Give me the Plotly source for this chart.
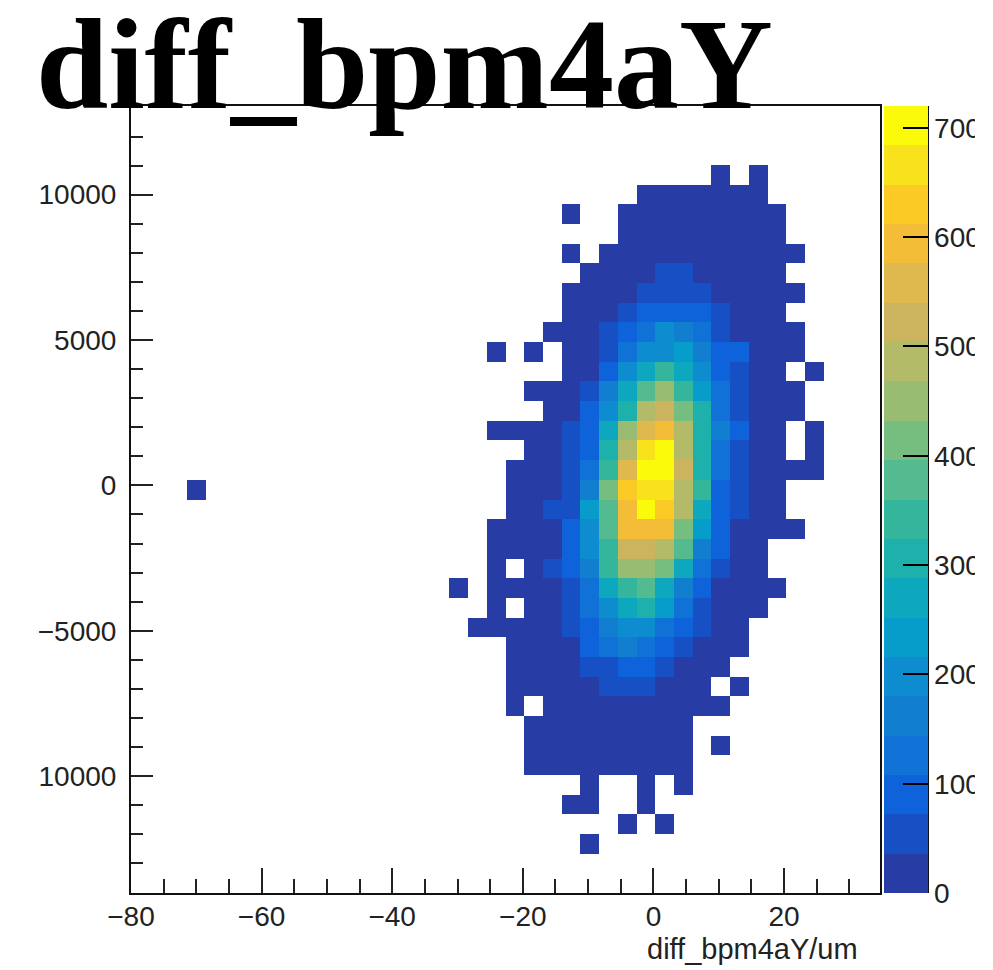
import plotly.graph_objects as go

# Histogram frame (data units)
X_MIN, X_MAX, N_X = -80.0, 34.7, 40
Y_MIN, Y_MAX, N_Y = -14020.0, 13050.0, 40
FIRST_COL = 16          # first x bin listed in the rows below
FIRST_ROW = 3           # first y bin from the top listed below
OUTLIER_BIN = (19, 3)   # (row from top, column)
OUTLIER_COUNT = 12

o = None
l = 12
# columns 16..36, rows from the top of the frame downward
counts = [
 [o,o,o,o,o,o,o,o,o,o,o,o,o,o,o,l,o,l,o,o,o],
 [o,o,o,o,o,o,o,o,o,o,o,l,l,l,l,l,l,l,o,o,o],
 [o,o,o,o,o,o,o,l,o,o,l,l,l,l,l,l,l,l,l,o,o],
 [o,o,o,o,o,o,o,o,o,o,l,l,l,l,l,l,l,l,l,o,o],
 [o,o,o,o,o,o,o,l,o,l,l,l,l,l,l,l,l,l,l,l,o],
 [o,o,o,o,o,o,o,o,l,l,l,l,54,54,l,l,l,l,l,o,o],
 [o,o,o,o,o,o,o,l,l,l,l,54,54,54,54,l,l,l,l,l,o],
 [o,o,o,o,o,o,o,l,l,l,54,90,90,90,90,54,l,l,l,o,o],
 [o,o,o,o,o,o,l,l,l,54,90,130,190,160,125,54,l,l,l,l,o],
 [o,o,o,l,o,l,o,l,l,54,125,198,198,245,160,90,90,l,l,l,o],
 [o,o,o,o,o,o,o,l,l,90,198,270,345,270,198,90,54,l,l,o,l],
 [o,o,o,o,o,l,l,l,54,160,270,378,450,342,234,126,54,l,l,l,o],
 [o,o,o,o,o,o,l,l,90,198,306,486,522,414,306,126,54,l,l,l,o],
 [o,o,o,l,l,l,l,54,90,270,450,558,594,486,306,162,90,l,l,o,l],
 [o,o,o,o,o,l,l,54,90,306,486,666,702,486,306,126,54,l,l,o,l],
 [o,o,o,o,l,l,l,54,126,342,558,702,702,522,306,126,54,l,l,l,l],
 [o,o,o,o,l,l,l,54,162,414,630,666,666,486,342,90,54,l,l,o,o],
 [o,o,o,o,l,l,54,54,234,378,594,702,630,486,270,90,54,l,l,o,o],
 [o,o,o,l,l,l,l,90,198,378,594,594,594,414,234,90,l,l,l,l,o],
 [o,o,o,l,l,l,l,90,198,342,522,522,486,378,162,90,l,l,o,o,o],
 [o,o,o,l,o,l,54,90,162,342,450,450,414,270,126,54,l,l,o,o,o],
 [o,l,o,l,l,l,l,54,126,270,342,378,270,162,90,l,l,l,l,o,o],
 [o,o,o,l,o,l,l,54,126,198,270,306,234,126,54,l,l,l,o,o,o],
 [o,o,l,l,l,l,l,54,90,162,198,198,126,90,54,l,l,o,o,o,o],
 [o,o,o,o,l,l,l,l,90,126,162,126,90,54,l,l,l,o,o,o,o],
 [o,o,o,o,l,l,l,l,54,54,90,90,54,l,l,l,o,o,o,o,o],
 [o,o,o,o,l,l,l,l,l,54,54,54,l,l,l,o,l,o,o,o,o],
 [o,o,o,o,l,o,l,l,l,l,l,l,l,l,l,l,o,o,o,o,o],
 [o,o,o,o,o,l,l,l,l,l,l,l,l,l,o,o,o,o,o,o,o],
 [o,o,o,o,o,l,l,l,l,l,l,l,l,l,o,l,o,o,o,o,o],
 [o,o,o,o,o,l,l,l,l,l,l,l,l,l,o,o,o,o,o,o,o],
 [o,o,o,o,o,o,o,o,l,o,o,l,o,l,o,o,o,o,o,o,o],
 [o,o,o,o,o,o,o,l,l,o,o,l,o,o,o,o,o,o,o,o,o],
 [o,o,o,o,o,o,o,o,o,o,l,o,l,o,o,o,o,o,o,o,o],
 [o,o,o,o,o,o,o,o,l,o,o,o,o,o,o,o,o,o,o,o,o],
]
assert all(len(r) == 21 for r in counts)

# 20 flat contour levels of the palette, bottom to top
band_colors = ["#283ca5", "#174fc4", "#0f63da", "#1071d6", "#117ed0", "#0d8ccf",
               "#079dcb", "#0da8bd", "#1eb1ab", "#33b69b", "#54bb90", "#76bd80",
               "#97bc72", "#b3ba68", "#ccb45f", "#e0b94e", "#f3bd38", "#fcca24",
               "#f8e21c", "#fafa0a"]
Z_MAX = 720

x_major = [-80, -60, -40, -20, 0, 20]
y_tick_vals = [-10000, -5000, 0, 5000, 10000]
y_tick_text = ["10000", "\u22125000", "0", "5000", "10000"]   # minus clipped on the lowest label
cbar_ticks = [0, 100, 200, 300, 400, 500, 600, 700]

# full grid, bottom row first
grid = [[None] * N_X for _ in range(N_Y)]
for i, row in enumerate(counts):
    for j, v in enumerate(row):
        grid[FIRST_ROW + i][FIRST_COL + j] = v
grid[OUTLIER_BIN[0]][OUTLIER_BIN[1]] = OUTLIER_COUNT
grid = grid[::-1]

dx = (X_MAX - X_MIN) / N_X
dy = (Y_MAX - Y_MIN) / N_Y
n = len(band_colors)
scale = []
for i, c in enumerate(band_colors):
    scale += [[i / n, c], [(i + 1) / n, c]]

FIG_W, FIG_H = 975, 970
L, R, T, B = 131, 95, 106, 76.5
PW = FIG_W - L - R
FONT = "Liberation Sans"
TICK_SIZE = 28

fig = go.Figure(go.Heatmap(
    z=grid, x0=X_MIN + dx / 2, dx=dx, y0=Y_MIN + dy / 2, dy=dy,
    zmin=0, zmax=Z_MAX, colorscale=scale, hoverongaps=False,
    colorbar=dict(
        xref="paper", x=(884 - L) / PW, xanchor="left", xpad=0, ypad=0,
        y=0.5, yanchor="middle", len=1, lenmode="fraction",
        thickness=44, thicknessmode="pixels", outlinewidth=0,
        tickmode="array", tickvals=cbar_ticks, ticks="inside", ticklen=25,
        tickwidth=1.5, tickcolor="#000000",
        tickfont=dict(family=FONT, size=TICK_SIZE, color="#222222"),
    ),
))

axis_common = dict(showgrid=False, zeroline=False, mirror=True, showline=True,
                   linecolor="#111111", linewidth=2, ticks="inside",
                   tickcolor="#222222", tickwidth=1.5,
                   tickfont=dict(family=FONT, size=TICK_SIZE, color="#222222"))

fig.update_xaxes(range=[X_MIN, X_MAX], tickmode="array", tickvals=x_major, ticklen=25,
                 ticklabelstandoff=-3,
                 minor=dict(dtick=5, ticks="inside", ticklen=14, tickwidth=1.5, tickcolor="#222222"),
                 **axis_common)
fig.update_yaxes(range=[Y_MIN, Y_MAX], tickmode="array", tickvals=y_tick_vals,
                 ticktext=y_tick_text, ticklen=22, ticklabelstandoff=7,
                 minor=dict(dtick=1000, ticks="inside", ticklen=12, tickwidth=1.5, tickcolor="#222222"),
                 **axis_common)

fig.update_layout(
    width=FIG_W, height=FIG_H, autosize=False,
    margin=dict(l=L, r=R, t=T, b=B, pad=0, autoexpand=False),
    paper_bgcolor="#ffffff", plot_bgcolor="#ffffff",
    title=dict(text="<b>diff_bpm4aY</b>", x=36 / FIG_W, xanchor="left", xref="container",
               y=0.889, yanchor="bottom", yref="container",
               font=dict(family="Liberation Serif", size=130, color="#000000"), pad=dict(l=0, t=0, b=0, r=0)),
    annotations=[dict(text="diff_bpm4aY/um", xref="paper", yref="paper", x=(860 - L) / PW, y=0,
                      xanchor="right", yanchor="top", yshift=-38, showarrow=False,
                      font=dict(family=FONT, size=29, color="#222222"))],
    shapes=[dict(type="line", xref="paper", yref="paper", x0=(928 - L) / PW, x1=(928 - L) / PW,
                 y0=0, y1=1, line=dict(color="#111111", width=2))],
)
fig.write_html("out.html", post_script="document.body.style.margin='0';",
               config=dict(displayModeBar=False))
